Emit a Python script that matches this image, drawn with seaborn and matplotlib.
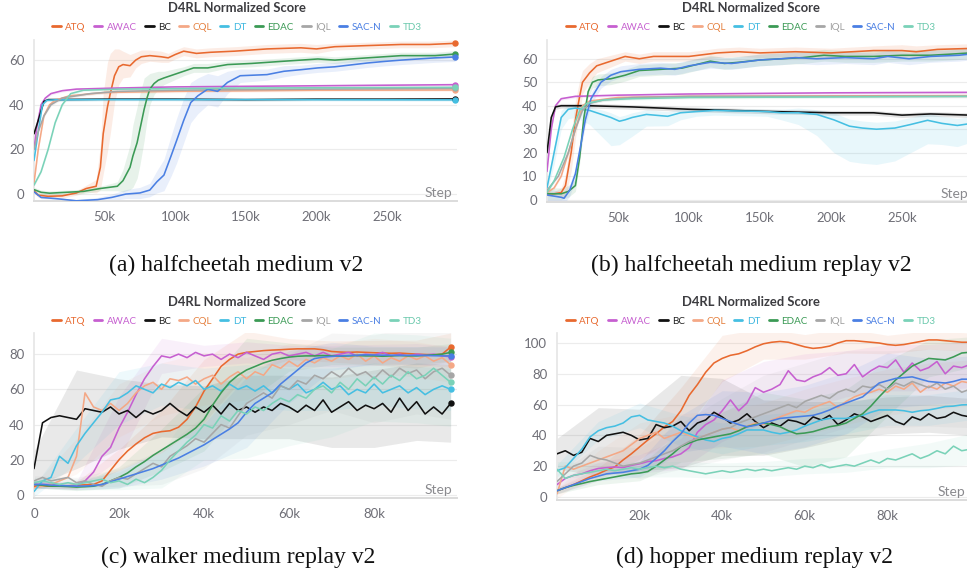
import numpy as np
import pandas as pd
import matplotlib
matplotlib.use("Agg")
import matplotlib.pyplot as plt
from matplotlib.lines import Line2D
import seaborn as sns

METHODS = ["ATQ", "AWAC", "BC", "CQL", "DT", "EDAC", "IQL", "SAC-N", "TD3"]
TITLE = "D4RL Normalized Score"
CAPTIONS = ["(a) halfcheetah medium v2", "(b) halfcheetah medium replay v2",
            "(c) walker medium replay v2", "(d) hopper medium replay v2"]

# ---------------- panel (a): halfcheetah medium v2 (steps in k) ----------------
A_ATQ_X = [0, 3, 10, 20, 30, 37, 44, 47, 49, 52, 54, 57, 60, 63, 68, 72, 76, 82, 90, 95, 100, 106, 115, 125, 142, 165, 189, 200, 213, 236, 260, 280, 298]
A_ATQ_Y = [1.5, -0.5, -1.0, -0.8, 0.5, 2.5, 3.5, 12, 27, 39, 45, 53, 57, 58, 57.5, 60, 61.5, 62, 61.5, 61, 62.5, 64, 63, 63.5, 64, 65, 65.5, 65, 66, 66.5, 67, 67, 67.5]
A_ATQ_S = [1, 1, 1, 1, 1, 1.5, 3, 10, 18, 20, 18, 12, 8, 6, 5, 3.5, 3, 2.5, 2.5, 2, 2, 2, 2, 2, 2, 2, 2, 2, 1.5, 1.5, 1.5, 1.5, 1.5]
A_AWAC_X = [0, 2, 5, 8, 12, 20, 30, 60, 100, 200, 298]
A_AWAC_Y = [20, 30, 40, 43, 45, 46.3, 47, 47.5, 48, 48.5, 49]
A_BC_X = [0, 3, 7, 10, 50, 100, 150, 200, 250, 298]
A_BC_Y = [27, 33, 41.5, 42.3, 42.5, 42.5, 42.3, 42.5, 42.5, 42.6]
A_CQL_X = [0, 3, 7, 11, 15, 25, 50, 100, 200, 298]
A_CQL_Y = [5, 20, 35, 40, 42, 44, 45.5, 46, 46.5, 46.6]
A_DT_X = [0, 3, 6, 9, 15, 50, 150, 298]
A_DT_Y = [15, 28, 40, 42, 42.2, 42.3, 42.3, 42.2]
A_EDAC_X = [0, 5, 11, 23, 35, 47, 59, 63, 68, 70, 73, 75, 78, 80, 82, 85, 88, 92, 99, 106, 113, 123, 137, 154, 177, 201, 213, 236, 260, 284, 298]
A_EDAC_Y = [2, 0.8, 0.4, 0.8, 1.2, 2.5, 3.5, 6, 12, 17, 23, 29, 38, 43, 47, 49.5, 51, 52, 53.5, 55, 56.5, 56.5, 58, 58.5, 59.5, 60.5, 60, 61, 62, 62, 62.7]
A_EDAC_S = [1, 1, 1, 1, 1, 1, 2, 5, 10, 14, 16, 16, 14, 10, 7, 5, 4, 3, 2.5, 2, 2, 2, 1.5, 1.5, 1.5, 1.5, 1.5, 1.5, 1.5, 1.5, 1.5]
A_IQL_X = [0, 3, 7, 12, 20, 40, 60, 100, 200, 298]
A_IQL_Y = [20, 28, 35, 40, 43, 45, 46, 46.5, 47, 47.3]
A_SACN_X = [0, 5, 15, 30, 45, 55, 65, 75, 82, 87, 92, 97, 101, 106, 111, 116, 123, 130, 137, 146, 165, 177, 189, 201, 213, 236, 248, 260, 284, 298]
A_SACN_Y = [1, -1.5, -2, -3, -2.5, -1.5, 0, 0.5, 1.8, 5.5, 8.5, 17, 24, 33, 41, 44, 47, 46, 50, 53, 53.5, 55, 55.7, 56.5, 57, 58.7, 59.4, 60, 61, 61.4]
A_SACN_S = [0.5, 0.5, 0.5, 0.5, 1, 1.5, 2, 2.5, 3, 5, 7, 9, 10, 10, 9, 8, 7, 7, 5, 3, 2.5, 2.5, 2, 2, 2, 2, 2, 2, 2, 2]
A_TD3_X = [0, 5, 10, 15, 20, 26, 35, 60, 150, 298]
A_TD3_Y = [4, 10, 20, 32, 40, 45, 46.5, 47, 47.5, 47.8]

# ---------------- panel (b): halfcheetah medium replay v2 ----------------
B_ATQ_X = [0, 5, 10, 13, 17, 20, 23, 25, 30, 35, 45, 55, 65, 75, 100, 120, 135, 150, 175, 200, 230, 250, 260, 275, 298]
B_ATQ_Y = [2.5, 2.5, 3, 6, 20, 34, 44, 50, 54, 57, 59, 61, 60, 61, 61, 62.5, 63, 62.5, 63, 62.5, 63.5, 63.5, 63, 64, 64.4]
B_ATQ_S = [1, 1, 2, 5, 8, 8, 7, 5, 4, 3, 2.5, 2, 2, 2, 2, 2, 2, 2, 2, 2, 2, 2.5, 2.5, 2, 2]
B_AWAC_X = [0, 3, 6, 10, 20, 50, 100, 200, 298]
B_AWAC_Y = [12, 30, 40, 43, 44, 44.5, 45, 45.5, 45.7]
B_BC_X = [0, 3, 6, 10, 30, 60, 80, 100, 130, 160, 200, 230, 250, 270, 298]
B_BC_Y = [20, 35, 39.5, 40, 40, 39.5, 39, 38.5, 38, 37.5, 37, 37, 36, 36.5, 36]
B_BC_S = 1.0
B_CQL_X = [0, 5, 10, 15, 20, 25, 30, 50, 100, 200, 298]
B_CQL_Y = [3, 5, 10, 20, 30, 40, 42, 43.5, 44, 44.2, 44.3]
B_DT_X = [0, 5, 10, 15, 20, 30, 40, 45, 51, 55, 60, 70, 85, 94, 105, 118, 130, 142, 155, 165, 177, 190, 202, 213, 222, 232, 245, 256, 268, 278, 289, 298]
B_DT_Y = [5, 20, 35, 38.5, 39, 38, 36, 35, 33.4, 34, 35, 36.3, 35.5, 37, 37.5, 38, 37.8, 37.7, 37.5, 37, 37, 36.3, 34, 31.3, 30.5, 30, 30.5, 32, 33.8, 32.5, 31.6, 32.4]
B_DT_LO = [2, 5, 5, 4, 4, 6, 10, 12, 10, 9, 8, 5, 4, 3, 2, 2, 2, 2, 2, 3, 5, 9, 14, 15, 15, 15, 14, 12, 10, 9, 9, 8]
B_DT_HI = [2, 3, 3, 2, 1.5, 1.5, 2, 2, 2, 2, 2, 2, 2, 1.5, 1.5, 1, 1, 1, 1, 1.5, 2, 2, 3, 3, 3, 3, 3, 3, 3, 3, 3, 3]
B_EDAC_X = [0, 5, 10, 15, 20, 23, 26, 29, 32, 36, 45, 55, 65, 80, 95, 105, 115, 125, 135, 150, 165, 180, 195, 210, 230, 250, 270, 285, 298]
B_EDAC_Y = [2.5, 2.5, 2.5, 3.5, 6, 18, 35, 46, 50, 51, 51.5, 53, 55, 55.5, 56, 57.5, 59, 58, 58.5, 59.5, 60, 60.5, 61.5, 61, 61, 61.5, 61.5, 62, 62.5]
B_EDAC_S = 2.5
B_IQL_X = [0, 8, 15, 20, 25, 30, 40, 60, 100, 298]
B_IQL_Y = [4, 10, 20, 30, 38, 41, 42.5, 43.5, 44, 44]
B_SACN_X = [0, 5, 10, 12, 16, 20, 24, 27, 31, 35, 38, 45, 52, 65, 80, 90, 100, 115, 130, 150, 165, 175, 190, 210, 230, 240, 255, 270, 290, 298]
B_SACN_Y = [2, 1.5, 1, 0.6, 4, 11, 24, 34, 43, 47, 50, 53, 54.5, 55.5, 56, 55.5, 57, 58.5, 58, 59.5, 60, 60.5, 60, 60.5, 60, 61, 60, 61, 61.5, 62]
B_SACN_S = 2.5
B_TD3_X = [0, 5, 12, 18, 23, 28, 40, 60, 100, 298]
B_TD3_Y = [3, 8, 18, 30, 38, 41, 42.5, 43, 43.5, 44]

# ---------------- panel (c): walker medium replay v2, logged every 2k steps ----------------
C_STEP = [0, 2, 4, 6, 8, 10, 12, 14, 16, 18, 20, 22, 24, 26, 28, 30, 32, 34, 36, 38,
          40, 42, 44, 46, 48, 50, 52, 54, 56, 58, 60, 62, 64, 66, 68, 70, 72, 74, 76, 78,
          80, 82, 84, 86, 88, 90, 92, 94, 96, 98]
C_BAND_IDX = [0, 5, 10, 15, 20, 25, 30, 35, 40, 45, 49]

C_ATQ = [5, 5, 5, 5, 5.2, 5.5, 5.8, 6, 8, 14, 20, 25, 29, 32.5, 35, 36, 36.5, 38.5, 43, 50, 59, 66, 73, 77, 80, 81, 81.5, 82, 82.3, 82.5, 82.8, 83, 83, 83, 82.5, 81.5, 81.2, 81, 81.2, 81, 80.8, 80.6, 80.5, 80.6, 80.3, 80, 79.8, 79.6, 80, 84]
C_AWAC = [6, 6, 6, 5.5, 5, 5.5, 8, 13, 22, 27, 38, 47, 57, 66, 73, 79, 78, 80, 78, 81, 79, 80, 77, 80, 78, 81, 79, 77, 80, 81, 79, 80, 81, 79, 81, 79, 80, 81, 79, 80, 79.5, 81, 79, 80, 79, 80, 79.5, 80, 79, 78.5]
C_BC = [15, 41, 44, 45, 44, 43, 49, 48, 47, 50, 46, 48, 44, 48, 46, 48, 52, 48, 45, 50, 47, 51, 46, 52, 48, 50, 47, 50, 48, 52, 50, 47, 51, 48, 54, 47, 50, 53, 48, 51, 49, 52, 47, 55, 48, 53, 46, 50, 46, 52]
C_CQL = [4, 5, 6, 8, 10, 22, 58, 50, 48, 52, 48, 52, 58, 62, 64, 60, 66, 65, 67, 63, 66, 68, 63, 67, 70, 66, 70, 68, 74, 72, 76, 73, 77, 75, 78, 76, 79, 77, 80, 76, 79, 75, 78, 76, 79, 77, 79, 76, 78, 74]
C_DT = [2, 8, 10, 22, 18, 28, 35, 41, 47, 54, 55, 58, 62, 60, 58, 63, 61, 64, 62, 65, 60, 62, 59, 63, 60, 62, 59, 62, 58, 62, 60, 63, 58, 60, 64, 60, 62, 57, 60, 58, 63, 58, 60, 62, 58, 61, 57, 60, 62, 60]
C_EDAC = [6, 5.5, 5, 5, 4.8, 4.5, 4.7, 5, 6, 8, 10, 12.5, 16, 19, 22.5, 25.5, 28.5, 31.5, 34.5, 38, 43, 51, 58, 64, 68, 71, 73, 75, 76.5, 77.5, 78.3, 78.8, 79, 79, 79.2, 79, 78.8, 79, 79.2, 79, 79, 78.8, 79, 79.2, 79, 79, 79.3, 79.6, 80, 81]
C_IQL = [8, 10, 8, 9, 10, 7, 8, 6, 5, 8, 10, 9, 12, 15, 18, 16, 22, 25, 28, 32, 30, 35, 40, 38, 45, 52, 55, 58, 55, 62, 60, 65, 63, 68, 66, 70, 67, 72, 68, 70, 66, 71, 67, 72, 69, 71, 66, 70, 72, 68]
C_SACN = [6, 6, 5.6, 5.4, 5.2, 5, 5.1, 5.3, 6, 7.5, 9, 10.5, 12, 13.5, 15, 17, 19, 21, 23.5, 26, 28.5, 31.5, 34.5, 37.5, 41, 47, 52, 55, 58, 63, 67, 71, 75, 77.5, 78.3, 78.7, 79, 79.2, 79.4, 79.6, 79.5, 79.4, 79.4, 79.3, 79.3, 79.3, 79.2, 79.1, 79, 79]
C_TD3 = [7, 8, 7, 6, 7, 6, 7, 8, 9, 7, 8, 6, 9, 7, 10, 14, 20, 25, 30, 34, 40, 38, 45, 42, 48, 46, 50, 48, 52, 55, 53, 57, 55, 60, 62, 58, 64, 60, 66, 62, 67, 63, 68, 65, 70, 66, 68, 72, 68, 64]
C_ATQ_S = [1, 2, 6, 12, 18, 12, 6, 6, 7, 8, 8]
C_AWAC_S = [2, 2, 18, 10, 6, 6, 6, 6, 6, 6, 6]
C_BC_S = [10, 28, 20, 15, 15, 18, 18, 20, 22, 22, 22]
C_CQL_S = [2, 10, 15, 15, 15, 12, 10, 10, 10, 10, 10]
C_DT_S = [3, 10, 15, 12, 12, 12, 12, 12, 12, 12, 12]
C_EDAC_S = [2, 2, 6, 12, 18, 18, 8, 5, 5, 5, 5]
C_IQL_S = [3, 3, 5, 10, 15, 18, 20, 22, 25, 25, 25]
C_SACN_S = [2, 2, 5, 8, 12, 20, 15, 8, 5, 5, 5]
C_TD3_S = [3, 3, 5, 10, 20, 25, 25, 25, 25, 25, 25]

# ---------------- panel (d): hopper medium replay v2, logged every 2k steps ----------------
D_STEP = [0, 2, 4, 6, 8, 10, 12, 14, 16, 18, 20, 22, 24, 26, 28, 30, 32, 34, 36, 38,
          40, 42, 44, 46, 48, 50, 52, 54, 56, 58, 60, 62, 64, 66, 68, 70, 72, 74, 76, 78,
          80, 82, 84, 86, 88, 90, 92, 94, 96, 98, 100]
D_BAND_IDX = [0, 5, 10, 15, 20, 25, 30, 35, 40, 45, 50]

D_ATQ = [4, 6, 8, 10.5, 13, 15, 17.5, 19.5, 24, 28, 32.5, 37, 41, 45.5, 49, 56, 66, 73, 81, 87, 90, 92, 93, 95, 97.5, 99.5, 100.5, 101, 100.5, 99, 97.5, 96.5, 97, 98, 100, 101.5, 101.5, 101, 100.5, 100, 99, 98.5, 99, 100, 101, 102, 102, 101.5, 101, 100.5, 100.5]
D_AWAC = [8, 12, 14, 15, 17, 18.5, 19, 19.5, 19, 20.5, 21.5, 23, 23.5, 25, 26, 28, 32, 42, 47, 50, 56, 63, 56, 61, 71, 68, 70, 73, 82, 76, 75, 78, 80, 84, 79, 80, 86, 78, 82, 85, 84, 89, 81, 87, 82, 84, 88, 80, 85, 84, 86]
D_BC = [28, 30, 27, 29, 38, 36, 40, 41, 42, 40, 37, 38, 47, 45, 46, 49, 43, 48, 50, 55, 52, 48, 50, 54, 49, 45, 48, 46, 50, 49, 47, 52, 50, 53, 47, 50, 54, 52, 49, 51, 53, 49, 47, 52, 50, 54, 51, 52, 55, 53, 52]
D_CQL = [2, 20, 18, 20, 22, 24, 26, 28, 30, 34, 38, 40, 42, 38, 40, 42, 40, 38, 40, 42, 44, 45, 43, 46, 48, 47, 50, 52, 54, 56, 55, 58, 60, 62, 58, 62, 65, 67, 68, 70, 68, 72, 70, 74, 68, 72, 70, 74, 72, 75, 74]
D_DT = [17, 19, 25, 31, 39, 43, 45, 46, 48, 52, 53, 50, 49, 48, 46, 43, 41, 39, 37, 36, 38, 39, 41, 43.5, 43.5, 43.5, 42, 41, 42, 43.5, 46, 48, 50, 51, 51, 51, 52, 53, 55, 56.5, 56.5, 56.5, 56, 55, 56, 56.5, 57.5, 58.7, 59, 59.8, 60]
D_EDAC = [4, 6, 7.5, 8.7, 10, 11, 12, 13, 14, 15, 15.5, 16.5, 20, 24, 28, 32.6, 35, 37, 38, 39, 40, 41, 43, 45.6, 47, 48, 47, 45.6, 43, 41, 41.5, 42.4, 44, 45.6, 46.5, 48, 51, 54, 59, 65, 70.5, 76, 80.5, 85, 87.5, 90, 89.5, 89, 91, 93.5, 94]
D_IQL = [10, 15, 20, 22, 27, 25, 24, 22, 20, 21, 22, 24, 26, 28, 30, 33, 36, 38, 40, 42, 44, 45, 48, 50, 52, 54, 56, 58, 60, 58, 62, 64, 66, 64, 68, 70, 68, 72, 71, 73, 70, 74, 72, 75, 73, 71, 74, 70, 72, 68, 70]
D_SACN = [4, 6, 8, 10, 12, 13.5, 15, 15.5, 16, 17, 18, 20.5, 25, 30, 36, 41, 48, 53, 53.5, 53, 51, 49, 47, 45.6, 46.5, 48, 49.5, 51, 51.5, 52, 52.5, 53, 54.5, 56.5, 59, 61, 63, 65, 69.5, 74, 75.5, 77, 77.5, 78, 76.5, 75, 74.5, 74, 75, 76.5, 76.5]
D_TD3 = [18, 12, 14, 15, 16, 17, 18, 17, 18, 19, 18, 19, 20, 19, 20, 18, 17, 16, 15, 16, 17, 16, 17, 18, 17, 18, 17, 18, 19, 18, 20, 19, 21, 19, 20, 21, 20, 22, 24, 22, 25, 24, 26, 28, 25, 27, 30, 28, 33, 30, 31]
D_ATQ_S = [2, 4, 8, 15, 15, 10, 8, 8, 6, 6, 6]
D_AWAC_S = [3, 4, 6, 10, 20, 20, 18, 15, 15, 15, 15]
D_BC_S = [10, 22, 20, 30, 25, 18, 15, 12, 12, 12, 12]
D_CQL_S = [3, 6, 10, 12, 12, 14, 15, 15, 15, 15, 15]
D_DT_S = [4, 6, 8, 10, 10, 10, 10, 10, 10, 10, 10]
D_EDAC_S = [2, 3, 5, 10, 15, 20, 22, 22, 18, 12, 10]
D_IQL_S = [5, 8, 10, 15, 20, 25, 25, 25, 25, 25, 25]
D_SACN_S = [2, 3, 5, 12, 18, 20, 20, 20, 18, 15, 15]
D_TD3_S = [5, 5, 5, 5, 5, 5, 5, 5, 6, 8, 10]

# ---------------- styling ----------------
LINE_COLORS = {"ATQ": "#e8692f", "AWAC": "#c65fd0", "BC": "#111111", "CQL": "#f4a886",
               "DT": "#45bfe2", "EDAC": "#3b9a55", "IQL": "#a6a6a6", "SAC-N": "#4a7fe3",
               "TD3": "#7ad2b8"}
TEXT_COLORS = {"ATQ": "#e8692f", "AWAC": "#c65fd0", "BC": "#222222", "CQL": "#e5803f",
               "DT": "#3fb8e0", "EDAC": "#3b9a55", "IQL": "#a0a0a0", "SAC-N": "#4a7fe3",
               "TD3": "#6cc9ad"}

sns.set_theme(style="white")
plt.rcParams["font.family"] = ["Lato", "DejaVu Sans"]

W, H = 967, 573
fig = plt.figure(figsize=(W / 100, H / 100), dpi=100)


def make_axes(l, t, r, b):
    return fig.add_axes([l / W, 1 - b / H, (r - l) / W, (b - t) / H])


def sym_band(x, y, s):
    x = np.asarray(x, float)
    y = np.asarray(y, float)
    s = np.asarray(s, float)
    return x, y - s, y + s


def draw_panel(ax, series, bands, xlim, ylim, yticks, xticks, xlabels, alpha, dots):
    for name in METHODS:
        bx, lo, hi = bands[name]
        ax.fill_between(bx, lo, hi, color=LINE_COLORS[name], alpha=alpha, lw=0, zorder=1)
    rows = []
    for name in METHODS:
        xs, ys = series[name]
        for xv, yv in zip(xs, ys):
            rows.append((name, xv, yv))
    df = pd.DataFrame(rows, columns=["method", "step", "score"])
    sns.lineplot(data=df, x="step", y="score", hue="method", hue_order=METHODS,
                 palette=LINE_COLORS, estimator=None, sort=False, legend=False,
                 lw=1.15, ax=ax, zorder=3)
    if dots:
        for name in METHODS:
            xs, ys = series[name]
            ax.plot([xs[-1]], [ys[-1]], "o", ms=3.6, color=LINE_COLORS[name],
                    clip_on=False, zorder=4)
    ax.set_xlim(*xlim)
    ax.set_ylim(*ylim)
    ax.set_yticks(yticks)
    ax.set_xticks(xticks)
    ax.set_xticklabels(xlabels)
    ax.set_xlabel("")
    ax.set_ylabel("")
    ax.grid(axis="y", color="#ececec", lw=0.8)
    ax.grid(axis="x", visible=False)
    ax.set_axisbelow(True)
    for side in ["top", "right"]:
        ax.spines[side].set_visible(False)
    ax.spines["left"].set_color("#e6e6e6")
    ax.spines["bottom"].set_color("#dcdcdc")
    ax.spines["bottom"].set_linewidth(1.4)
    ax.tick_params(axis="both", labelsize=9.5, colors="#dddddd", labelcolor="#6e6e76",
                   length=4, width=0.8, pad=3)
    ax.text(1 - 5 / (ax.get_position().width * W), 0.012, "Step", transform=ax.transAxes,
            ha="right", va="bottom", fontsize=10, color="#8a8a8e", zorder=5)


def header(cx, ty, ly):
    fig.text(cx / W, 1 - ty / H, TITLE, ha="center", va="center", fontsize=9.4,
             fontweight="bold", color="#3c3c40")
    handles = [Line2D([0], [0], color=LINE_COLORS[m], lw=2) for m in METHODS]
    leg = fig.legend(handles, METHODS, loc="center", bbox_to_anchor=(cx / W, 1 - ly / H),
                     ncol=9, frameon=False, fontsize=7.1, handlelength=0.85,
                     handletextpad=0.45, columnspacing=0.85, borderaxespad=0, borderpad=0)
    for txt, m in zip(leg.get_texts(), METHODS):
        txt.set_color(TEXT_COLORS[m])


def caption(cx, cy, text):
    fig.text(cx / W, 1 - cy / H, text, ha="center", va="center", fontsize=17,
             family=["Liberation Serif", "DejaVu Serif"], color="#111111")


SMALL = 0.6

# panel a
ax_a = make_axes(34, 40, 457, 201)
series_a = {"ATQ": (A_ATQ_X, A_ATQ_Y), "AWAC": (A_AWAC_X, A_AWAC_Y), "BC": (A_BC_X, A_BC_Y),
            "CQL": (A_CQL_X, A_CQL_Y), "DT": (A_DT_X, A_DT_Y), "EDAC": (A_EDAC_X, A_EDAC_Y),
            "IQL": (A_IQL_X, A_IQL_Y), "SAC-N": (A_SACN_X, A_SACN_Y), "TD3": (A_TD3_X, A_TD3_Y)}
spreads_a = {"ATQ": A_ATQ_S, "EDAC": A_EDAC_S, "SAC-N": A_SACN_S}
bands_a = {m: sym_band(*series_a[m], spreads_a.get(m, SMALL)) for m in METHODS}
draw_panel(ax_a, series_a, bands_a, (0, 299.5), (-3.1, 69), [0, 20, 40, 60],
           [50, 100, 150, 200, 250], ["50k", "100k", "150k", "200k", "250k"], 0.12, True)

# panel b
ax_b = make_axes(547, 40, 973, 202)
series_b = {"ATQ": (B_ATQ_X, B_ATQ_Y), "AWAC": (B_AWAC_X, B_AWAC_Y), "BC": (B_BC_X, B_BC_Y),
            "CQL": (B_CQL_X, B_CQL_Y), "DT": (B_DT_X, B_DT_Y), "EDAC": (B_EDAC_X, B_EDAC_Y),
            "IQL": (B_IQL_X, B_IQL_Y), "SAC-N": (B_SACN_X, B_SACN_Y), "TD3": (B_TD3_X, B_TD3_Y)}
spreads_b = {"ATQ": B_ATQ_S, "BC": B_BC_S, "EDAC": B_EDAC_S, "SAC-N": B_SACN_S}
bands_b = {m: sym_band(*series_b[m], spreads_b.get(m, SMALL)) for m in METHODS}
bands_b["DT"] = (np.asarray(B_DT_X, float), np.asarray(B_DT_Y) - np.asarray(B_DT_LO),
                 np.asarray(B_DT_Y) + np.asarray(B_DT_HI))
draw_panel(ax_b, series_b, bands_b, (0, 300), (-1, 68), [0, 10, 20, 30, 40, 50, 60],
           [50, 100, 150, 200, 250], ["50k", "100k", "150k", "200k", "250k"], 0.12, False)


def step_bands(steps, idx, vals, spreads):
    out = {}
    for m in METHODS:
        y = np.asarray(vals[m], float)
        bx = np.asarray(steps, float)[idx]
        by = y[idx]
        s = np.asarray(spreads[m], float)
        out[m] = (bx, by - s, by + s)
    return out


# panel c
ax_c = make_axes(34, 333, 457, 498)
vals_c = {"ATQ": C_ATQ, "AWAC": C_AWAC, "BC": C_BC, "CQL": C_CQL, "DT": C_DT,
          "EDAC": C_EDAC, "IQL": C_IQL, "SAC-N": C_SACN, "TD3": C_TD3}
spr_c = {"ATQ": C_ATQ_S, "AWAC": C_AWAC_S, "BC": C_BC_S, "CQL": C_CQL_S, "DT": C_DT_S,
         "EDAC": C_EDAC_S, "IQL": C_IQL_S, "SAC-N": C_SACN_S, "TD3": C_TD3_S}
series_c = {m: (C_STEP, vals_c[m]) for m in METHODS}
draw_panel(ax_c, series_c, step_bands(C_STEP, C_BAND_IDX, vals_c, spr_c), (0, 99.5),
           (-1.7, 92), [0, 20, 40, 60, 80], [0, 20, 40, 60, 80],
           ["0", "20k", "40k", "60k", "80k"], 0.09, True)

# panel d
ax_d = make_axes(557, 333, 970, 500)
vals_d = {"ATQ": D_ATQ, "AWAC": D_AWAC, "BC": D_BC, "CQL": D_CQL, "DT": D_DT,
          "EDAC": D_EDAC, "IQL": D_IQL, "SAC-N": D_SACN, "TD3": D_TD3}
spr_d = {"ATQ": D_ATQ_S, "AWAC": D_AWAC_S, "BC": D_BC_S, "CQL": D_CQL_S, "DT": D_DT_S,
         "EDAC": D_EDAC_S, "IQL": D_IQL_S, "SAC-N": D_SACN_S, "TD3": D_TD3_S}
series_d = {m: (D_STEP, vals_d[m]) for m in METHODS}
draw_panel(ax_d, series_d, step_bands(D_STEP, D_BAND_IDX, vals_d, spr_d), (0, 100),
           (-2, 106.5), [0, 20, 40, 60, 80, 100], [20, 40, 60, 80],
           ["20k", "40k", "60k", "80k"], 0.09, False)

header(237, 8, 27)
header(751, 8, 27)
header(237, 302, 321)
header(751, 302, 321)

caption(236, 265, CAPTIONS[0])
caption(751, 265, CAPTIONS[1])
caption(238, 557, CAPTIONS[2])
caption(754, 557, CAPTIONS[3])

fig.savefig("out.png", dpi=100, facecolor="white")
